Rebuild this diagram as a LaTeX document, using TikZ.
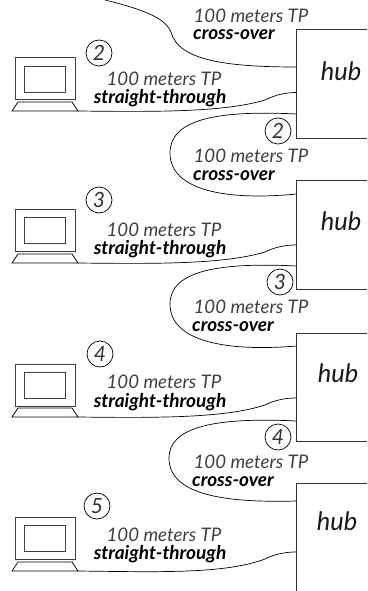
\documentclass[tikz,border=0pt]{standalone}
\usepackage{fontspec}
\setmainfont{Lato}
\tikzset{
  screen/.style={draw=black!75,line width=1pt,inner sep=0pt,minimum width=59.5pt,minimum height=42pt},
  panel/.style={draw=black!75,line width=0.8pt,inner sep=0pt,minimum width=41pt,minimum height=26pt},
  keys/.style={draw=black,line width=0.7pt},
  num/.style={draw=black,line width=0.7pt,circle,inner sep=0pt,minimum size=26pt,text=black!80,font=\itshape\fontsize{21}{21}\selectfont},
  len/.style={inner sep=0pt,text=black!75,font=\itshape\fontsize{18.7}{18.7}\selectfont},
  kind/.style={inner sep=0pt,font=\bfseries\itshape\fontsize{19}{19}\selectfont},
  hublabel/.style={inner sep=0pt,text=black!90,font=\itshape\fontsize{25.5}{25.5}\selectfont},
  hubline/.style={draw=black!80,line width=1pt},
  cable/.style={draw=black,line width=0.7pt}
}
\begin{document}
\begin{tikzpicture}[x=1pt,y=-1pt]
  \useasboundingbox (0,0) rectangle (367,591);
  % hubs
  \coordinate (hubAtr) at (367,29.5); \coordinate (hubAtl) at (296.5,29.5);
  \coordinate (hubAbl) at (296.5,138); \coordinate (hubAbr) at (367,138);
  \coordinate (hubBtr) at (367,180.5); \coordinate (hubBtl) at (296.5,180.5);
  \coordinate (hubBbl) at (296.5,289); \coordinate (hubBbr) at (367,289);
  \coordinate (hubCtr) at (367,333); \coordinate (hubCtl) at (296.5,333);
  \coordinate (hubCbl) at (296.5,441.5); \coordinate (hubCbr) at (367,441.5);
  \coordinate (hubDtr) at (367,483.5); \coordinate (hubDtl) at (296.5,483.5);
  \coordinate (hubDbl) at (296.5,591);
  \draw[hubline] (hubAtr)--(hubAtl)--(hubAbl)--(hubAbr);
  \draw[hubline] (hubBtr)--(hubBtl)--(hubBbl)--(hubBbr);
  \draw[hubline] (hubCtr)--(hubCtl)--(hubCbl)--(hubCbr);
  \draw[hubline] (hubDtr)--(hubDtl)--(hubDbl);
  \node[hublabel] (hubA) at (341,71) {hub};
  \node[hublabel] (hubB) at (341,221) {hub};
  \node[hublabel] (hubC) at (338,373) {hub};
  \node[hublabel] (hubD) at (337,521) {hub};
  % computers
  \node[screen] (scrA) at (45.25,79) {};
  \node[panel] (panA) at (45,79) {};
  \coordinate (keyA) at (78,111);
  \draw[keys] (keyA) -- ++(-66,0) -- ++(6,-9) -- ++(54,0) -- cycle;
  \node[screen] (scrB) at (45.25,230.5) {};
  \node[panel] (panB) at (45,230.5) {};
  \coordinate (keyB) at (78,263);
  \draw[keys] (keyB) -- ++(-66,0) -- ++(6,-9) -- ++(54,0) -- cycle;
  \node[screen] (scrC) at (45.25,385) {};
  \node[panel] (panC) at (45,385) {};
  \coordinate (keyC) at (78,417);
  \draw[keys] (keyC) -- ++(-66,0) -- ++(6,-9) -- ++(54,0) -- cycle;
  \node[screen] (scrD) at (45.25,538.5) {};
  \node[panel] (panD) at (45,538.5) {};
  \coordinate (keyD) at (78,571);
  \draw[keys] (keyD) -- ++(-66,0) -- ++(6,-9) -- ++(54,0) -- cycle;
  % numbers
  \node[num] (numA) at (99,53) {2};
  \node[num] (numB) at (99,200) {3};
  \node[num] (numC) at (100,354) {4};
  \node[num] (numD) at (97,506) {5};
  \node[num,fill=white] (numE) at (278,131) {2};
  \node[num,fill=white] (numF) at (280,282) {3};
  \node[num,fill=white] (numG) at (278,437) {4};
  % ports
  \coordinate (top) at (105,0);
  \coordinate (portA) at (296.5,67);
  \coordinate (portB) at (296.5,92.5);
  \coordinate (portC) at (296.5,114);
  \coordinate (portD) at (296.5,194);
  \coordinate (portE) at (296.5,245);
  \coordinate (portF) at (296.5,266);
  \coordinate (portG) at (296.5,346);
  \coordinate (portH) at (296.5,398);
  \coordinate (portI) at (296.5,421);
  \coordinate (portJ) at (296.5,501);
  \coordinate (portK) at (296.5,552);
  % cables
  \draw[cable] (top) .. controls (150,11) and (166,20) .. (171,32) .. controls (178,60) and (225,67) .. (portA);
  \draw[cable] (keyA) .. controls (160,112) and (225,112) .. (265,100) .. controls (275,95) and (285,92.5) .. (portB);
  \draw[cable] (portC) .. controls (215,110) and (170,120) .. (170,153) .. controls (170,190) and (225,201) .. (portD);
  \draw[cable] (keyB) .. controls (160,264) and (225,264) .. (265,252) .. controls (275,247) and (285,245) .. (portE);
  \draw[cable] (portF) .. controls (215,262) and (170,272) .. (170,304) .. controls (170,341) and (225,352) .. (portG);
  \draw[cable] (keyC) .. controls (160,418) and (225,418) .. (265,405) .. controls (275,400) and (285,398) .. (portH);
  \draw[cable] (portI) .. controls (215,417) and (169,427) .. (169,458) .. controls (169,495) and (225,503) .. (portJ);
  \draw[cable] (keyD) .. controls (160,572) and (225,574) .. (265,559) .. controls (275,554) and (285,552) .. (portK);
  % labels
  \node[len] (lenA) at (251,16) {100 meters TP};
  \node[kind] (kindA) at (234,35) {cross-over};
  \node[len] (lenB) at (164,79) {100 meters TP};
  \node[kind] (kindB) at (160,98) {straight-through};
  \node[len] (lenC) at (251,156) {100 meters TP};
  \node[kind] (kindC) at (234,176) {cross-over};
  \node[len] (lenD) at (164,230) {100 meters TP};
  \node[kind] (kindD) at (160,249) {straight-through};
  \node[len] (lenE) at (251,307) {100 meters TP};
  \node[kind] (kindE) at (233,327) {cross-over};
  \node[len] (lenF) at (164,382) {100 meters TP};
  \node[kind] (kindF) at (160,402) {straight-through};
  \node[len] (lenG) at (251,462) {100 meters TP};
  \node[kind] (kindG) at (233,482) {cross-over};
  \node[len] (lenH) at (164,535) {100 meters TP};
  \node[kind] (kindH) at (160,554) {straight-through};
\end{tikzpicture}
\end{document}
